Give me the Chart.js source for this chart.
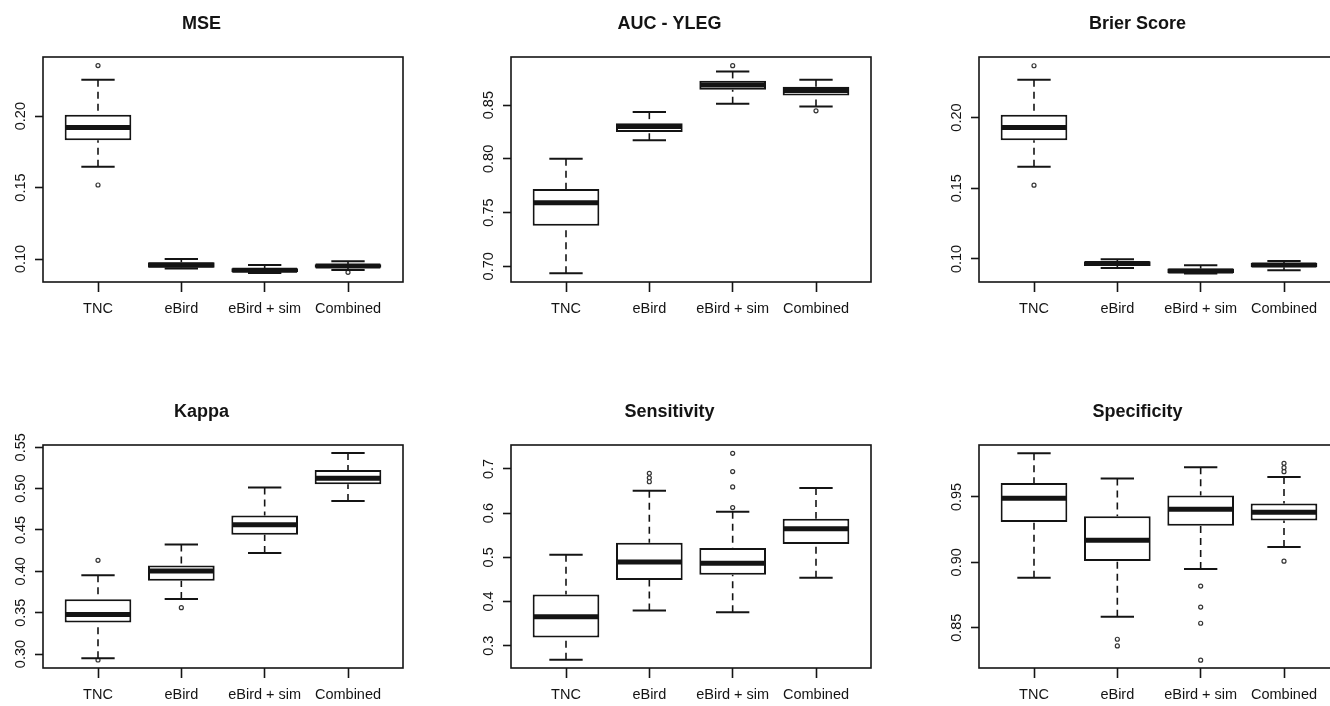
<!DOCTYPE html>
<html lang="en">
<head>
    <meta charset="UTF-8">
    <title>Model comparison boxplots</title>
    <script src="https://cdn.jsdelivr.net/npm/chart.js"></script>
    <style>
        html, body { margin: 0; padding: 0; background: #fff; overflow: hidden; }
        body { width: 1330px; height: 706px; position: relative; }
        canvas { position: absolute; }
    </style>
</head>
<body>
    <canvas id="c0"></canvas>
    <canvas id="c1"></canvas>
    <canvas id="c2"></canvas>
    <canvas id="c3"></canvas>
    <canvas id="c4"></canvas>
    <canvas id="c5"></canvas>

    <script>
        // groups on the x axis
        const groups = ['TNC', 'eBird', 'eBird + sim', 'Combined'];
        const titles = ['MSE', 'AUC - YLEG', 'Brier Score', 'Kappa', 'Sensitivity', 'Specificity'];

        // box stats per group: [lower whisker, Q1, median, Q3, upper whisker]
        const mseStats = [
            [0.1646, 0.1831, 0.1920, 0.2009, 0.2255],
            [0.0933, 0.0939, 0.0958, 0.0977, 0.1000],
            [0.0902, 0.0907, 0.0921, 0.0935, 0.0958],
            [0.0923, 0.0939, 0.0951, 0.0963, 0.0984]
        ];
        const mseOutliers = [[0.2354, 0.1518], [], [], [0.0907]];
        const mseTicks = ['0.10', '0.15', '0.20'];
        const mseLimits = [0.0839, 0.2414];

        const aucStats = [
            [0.6935, 0.7377, 0.7591, 0.7719, 0.8000],
            [0.8173, 0.8251, 0.8301, 0.8332, 0.8435],
            [0.8512, 0.8643, 0.8687, 0.8727, 0.8814],
            [0.8488, 0.8590, 0.8637, 0.8671, 0.8736]
        ];
        const aucOutliers = [[], [], [0.8867], [0.8447]];
        const aucTicks = ['0.70', '0.75', '0.80', '0.85'];
        const aucLimits = [0.6854, 0.8948];

        const brierStats = [
            [0.1652, 0.1839, 0.1929, 0.2019, 0.2267],
            [0.0936, 0.0950, 0.0967, 0.0984, 0.0998],
            [0.0897, 0.0899, 0.0915, 0.0932, 0.0955],
            [0.0920, 0.0941, 0.0957, 0.0972, 0.0986]
        ];
        const brierOutliers = [[0.2366, 0.1522], [], [], []];
        const brierTicks = ['0.10', '0.15', '0.20'];
        const brierLimits = [0.0837, 0.2428];

        const kappaStats = [
            [0.2948, 0.3380, 0.3477, 0.3662, 0.3952],
            [0.3666, 0.3887, 0.4004, 0.4072, 0.4326],
            [0.4221, 0.4443, 0.4564, 0.4676, 0.5015],
            [0.4850, 0.5052, 0.5125, 0.5226, 0.5431]
        ];
        const kappaOutliers = [[0.4133, 0.2928], [0.3561], [], []];
        const kappaTicks = ['0.30', '0.35', '0.40', '0.45', '0.50', '0.55'];
        const kappaLimits = [0.2831, 0.5528];

        const sensStats = [
            [0.2684, 0.3188, 0.3653, 0.4158, 0.5060],
            [0.3795, 0.4488, 0.4895, 0.5331, 0.6507],
            [0.3757, 0.4608, 0.4864, 0.5211, 0.6031],
            [0.4540, 0.5301, 0.5648, 0.5874, 0.6567]
        ];
        const sensOutliers = [[], [0.690, 0.680, 0.671], [0.7354, 0.6940, 0.6593, 0.6126], []];
        const sensTicks = ['0.3', '0.4', '0.5', '0.6', '0.7'];
        const sensLimits = [0.2495, 0.7542];

        const specStats = [
            [0.8882, 0.9309, 0.9490, 0.9607, 0.9833],
            [0.8584, 0.9010, 0.9169, 0.9352, 0.9640],
            [0.8948, 0.9279, 0.9406, 0.9510, 0.9726],
            [0.9118, 0.9319, 0.9383, 0.9449, 0.9652]
        ];
        const specOutliers = [[], [0.8412, 0.8361], [0.8818, 0.8658, 0.8534, 0.8252], [0.9757, 0.9724, 0.9693, 0.9009]];
        const specTicks = ['0.85', '0.90', '0.95'];
        const specLimits = [0.8192, 0.9897];

        const allStats = [mseStats, aucStats, brierStats, kappaStats, sensStats, specStats];
        const allOutliers = [mseOutliers, aucOutliers, brierOutliers, kappaOutliers, sensOutliers, specOutliers];
        const allTicks = [mseTicks, aucTicks, brierTicks, kappaTicks, sensTicks, specTicks];
        const allLimits = [mseLimits, aucLimits, brierLimits, kappaLimits, sensLimits, specLimits];

        // where each panel sits on the page (canvas left/top, plot height)
        const panelPos = [
            { left: 0, top: 0, h: 225 },
            { left: 468, top: 0, h: 225 },
            { left: 936, top: 0, h: 225 },
            { left: 0, top: 388, h: 223 },
            { left: 468, top: 388, h: 223 },
            { left: 936, top: 388, h: 223 }
        ];
        const AXIS_W = 43, TITLE_H = 57, XAXIS_H = 50, PLOT_W = 360;
        const INK = '#141414';
        const FONT = '"Liberation Sans", Arial, sans-serif';

        function seg(ctx, x1, y1, x2, y2) {
            ctx.beginPath();
            ctx.moveTo(x1, y1);
            ctx.lineTo(x2, y2);
            ctx.stroke();
        }

        // whiskers, caps, medians, frame and rotated y labels
        const boxParts = {
            id: 'boxParts',
            afterDatasetsDraw(chart) {
                const { ctx, chartArea, scales: { x, y } } = chart;
                const opts = chart.options.plugins.boxParts;
                ctx.save();
                ctx.strokeStyle = INK;
                ctx.lineCap = 'butt';
                opts.stats.forEach((s, i) => {
                    const [lo, q1, med, q3, hi] = s;
                    const cx = x.getPixelForValue(i + 1);
                    const half = x.getPixelForValue(i + 1.4) - cx;
                    const cap = half / 2;
                    const yLo = y.getPixelForValue(lo), yQ1 = y.getPixelForValue(q1);
                    const yMed = y.getPixelForValue(med), yQ3 = y.getPixelForValue(q3);
                    const yHi = y.getPixelForValue(hi);

                    ctx.lineWidth = 1.6;
                    ctx.setLineDash([7, 5]);
                    seg(ctx, cx, yHi, cx, yQ3);
                    seg(ctx, cx, yLo, cx, yQ1);
                    ctx.setLineDash([]);
                    ctx.lineWidth = 2;
                    seg(ctx, cx - cap, yHi, cx + cap, yHi);
                    seg(ctx, cx - cap, yLo, cx + cap, yLo);
                    ctx.lineWidth = 5;
                    seg(ctx, cx - half + 1, yMed, cx + half - 1, yMed);
                });

                // plot frame
                ctx.lineWidth = 1.6;
                ctx.strokeRect(chartArea.left, chartArea.top, chartArea.right - chartArea.left, chartArea.bottom - chartArea.top);

                // y tick labels, turned to run along the axis
                ctx.fillStyle = INK;
                ctx.font = '14.5px ' + FONT;
                ctx.textAlign = 'center';
                ctx.textBaseline = 'alphabetic';
                opts.tickLabels.forEach(lbl => {
                    const py = y.getPixelForValue(Number(lbl));
                    ctx.save();
                    ctx.translate(chartArea.left - 18, py);
                    ctx.rotate(-Math.PI / 2);
                    ctx.fillText(lbl, 0, 0);
                    ctx.restore();
                });
                ctx.restore();
            }
        };

        function makePanel(i) {
            const pos = panelPos[i];
            const canvas = document.getElementById('c' + i);
            const w = AXIS_W * 2 + PLOT_W;
            const h = TITLE_H + pos.h + XAXIS_H;
            canvas.width = w;
            canvas.height = h;
            canvas.style.left = pos.left + 'px';
            canvas.style.top = pos.top + 'px';
            canvas.style.width = w + 'px';
            canvas.style.height = h + 'px';

            const stats = allStats[i];
            const outliers = allOutliers[i];
            const tickLabels = allTicks[i];
            const limits = allLimits[i];

            const boxes = stats.map((s, k) => ({ x: k + 1, y: [s[1], s[3]] }));
            const points = [];
            outliers.forEach((list, k) => list.forEach(v => points.push({ x: k + 1, y: v })));

            new Chart(canvas, {
                type: 'bar',
                data: {
                    datasets: [{
                        type: 'bar',
                        data: boxes,
                        backgroundColor: '#ffffff',
                        borderColor: INK,
                        borderWidth: 2,
                        borderSkipped: false,
                        barPercentage: 0.8,
                        categoryPercentage: 1
                    }, {
                        type: 'scatter',
                        data: points,
                        pointStyle: 'circle',
                        pointRadius: 2,
                        pointBorderWidth: 1.2,
                        pointBackgroundColor: '#ffffff',
                        pointBorderColor: '#333333'
                    }]
                },
                options: {
                    responsive: false,
                    animation: false,
                    devicePixelRatio: 1,
                    events: [],
                    layout: { padding: { left: 0, right: AXIS_W, top: 0, bottom: 0 } },
                    plugins: {
                        legend: { display: false },
                        tooltip: { enabled: false },
                        title: {
                            display: true,
                            text: titles[i],
                            color: INK,
                            font: { family: FONT, size: 18, weight: 'bold', lineHeight: 1.2 },
                            padding: { top: 13.5, bottom: TITLE_H - 13.5 - 21.6 }
                        },
                        boxParts: { stats: stats, tickLabels: tickLabels }
                    },
                    scales: {
                        x: {
                            type: 'linear',
                            min: 0.34,
                            max: 4.66,
                            offset: false,
                            afterBuildTicks: s => { s.ticks = groups.map((g, k) => ({ value: k + 1 })); },
                            afterFit: s => { s.height = XAXIS_H; },
                            ticks: {
                                callback: v => groups[v - 1],
                                color: INK,
                                padding: 8.5,
                                maxRotation: 0,
                                autoSkip: false,
                                font: { family: FONT, size: 14.5 }
                            },
                            grid: {
                                offset: false,
                                drawOnChartArea: false,
                                drawTicks: true,
                                tickLength: 10,
                                tickColor: INK,
                                tickWidth: 1.6
                            },
                            border: { display: false }
                        },
                        y: {
                            type: 'linear',
                            min: limits[0],
                            max: limits[1],
                            afterBuildTicks: s => { s.ticks = tickLabels.map(t => ({ value: Number(t) })); },
                            afterFit: s => { s.width = AXIS_W; },
                            ticks: { display: false },
                            grid: {
                                drawOnChartArea: false,
                                drawTicks: true,
                                tickLength: 8,
                                tickColor: INK,
                                tickWidth: 1.6
                            },
                            border: { display: false }
                        }
                    }
                },
                plugins: [boxParts]
            });
        }

        for (let i = 0; i < 6; i++) makePanel(i);
    </script>
</body>
</html>
